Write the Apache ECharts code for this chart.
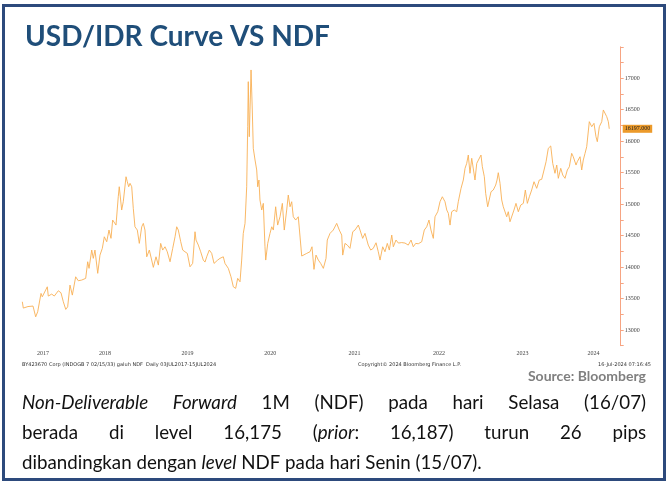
<!DOCTYPE html>
<html><head><meta charset="utf-8">
<script src="https://cdn.jsdelivr.net/npm/echarts@6/dist/echarts.min.js"></script>
<style>html,body{margin:0;padding:0;background:#fff}#c{width:669px;height:483px}</style>
</head><body><div id="c"></div>
<script>
// x values: decimal years (2017.5 = 03 Jul 2017)
const dates = [
2017.511,2017.523,2017.579,2017.639,2017.671,2017.695,2017.735,2017.750,2017.810,2017.822,
2017.863,2017.894,2017.942,2017.974,2018.002,2018.031,2018.054,2018.082,2018.110,2018.150,
2018.181,2018.222,2018.270,2018.294,2018.310,2018.342,2018.361,2018.381,2018.414,2018.441,
2018.469,2018.493,2018.522,2018.549,2018.573,2018.593,2018.633,2018.660,2018.672,2018.701,
2018.720,2018.753,2018.768,2018.785,2018.801,2018.821,2018.840,2018.860,2018.888,2018.912,
2018.941,2018.960,2018.980,2019.001,2019.032,2019.060,2019.080,2019.112,2019.140,2019.168,
2019.192,2019.220,2019.247,2019.280,2019.312,2019.340,2019.360,2019.379,2019.408,2019.432,
2019.459,2019.487,2019.519,2019.551,2019.579,2019.591,2019.619,2019.647,2019.678,2019.699,
2019.719,2019.750,2019.779,2019.807,2019.851,2019.878,2019.918,2019.938,2019.978,2020.010,
2020.038,2020.066,2020.090,2020.118,2020.138,2020.157,2020.178,2020.198,2020.210,2020.217,
2020.229,2020.241,2020.250,2020.265,2020.277,2020.298,2020.318,2020.330,2020.345,2020.357,
2020.378,2020.397,2020.417,2020.426,2020.450,2020.477,2020.498,2020.517,2020.545,2020.569,
2020.597,2020.625,2020.648,2020.677,2020.696,2020.717,2020.737,2020.756,2020.785,2020.816,
2020.837,2020.857,2020.876,2020.917,2020.956,2020.980,2021.004,2021.028,2021.056,2021.084,
2021.116,2021.148,2021.163,2021.196,2021.235,2021.276,2021.307,2021.336,2021.348,2021.375,
2021.403,2021.435,2021.468,2021.495,2021.535,2021.555,2021.587,2021.615,2021.654,2021.683,
2021.714,2021.747,2021.774,2021.795,2021.827,2021.854,2021.882,2021.906,2021.935,2021.954,
2021.986,2022.014,2022.054,2022.094,2022.133,2022.166,2022.193,2022.222,2022.253,2022.294,
2022.325,2022.354,2022.381,2022.405,2022.433,2022.453,2022.486,2022.513,2022.541,2022.573,
2022.594,2022.613,2022.633,2022.653,2022.684,2022.713,2022.732,2022.765,2022.792,2022.813,
2022.833,2022.852,2022.872,2022.893,2022.912,2022.932,2022.953,2022.972,2023.004,2023.020,
2023.044,2023.060,2023.084,2023.100,2023.124,2023.151,2023.180,2023.196,2023.211,2023.232,
2023.252,2023.271,2023.292,2023.312,2023.331,2023.351,2023.372,2023.399,2023.423,2023.451,
2023.480,2023.511,2023.535,2023.559,2023.583,2023.611,2023.639,2023.671,2023.702,2023.731,
2023.759,2023.783,2023.810,2023.839,2023.863,2023.890,2023.911,2023.930,2023.959,2023.983,
2024.010,2024.038,2024.062,2024.090,2024.109,2024.142,2024.157,2024.190,2024.210,2024.229,
2024.250,2024.270,2024.301,2024.330,2024.357,2024.381,2024.397,2024.421,2024.450,2024.469,
2024.489,2024.510,2024.529,2024.540
];
const ndf = [
13448,13348,13372,13380,13209,13289,13581,13527,13686,13539,
13570,13539,13623,13591,13448,13327,13368,13713,13554,13845,
13782,13793,13820,14084,13979,14270,14138,14270,13900,14190,
14297,14481,14402,14588,14456,14747,14667,15117,15276,14906,
15038,15435,15356,15276,15330,15276,14933,14640,14588,14376,
14640,14694,14588,14163,14270,14111,13995,14163,14031,14376,
14270,14322,14243,14084,14297,14481,14640,14588,14402,14270,
14243,14217,14004,14058,14561,14429,14349,14243,14111,14079,
14163,14270,14217,14058,14111,14138,14163,14058,13979,13845,
13686,13661,13820,13766,14111,14535,14694,15276,16230,16946,
16071,16655,17132,16496,15887,15701,15542,15276,15383,15065,
14906,15012,14322,14111,14376,14535,14640,14588,14958,14667,
14799,15012,14588,14906,15144,14958,15038,14799,14747,14799,
14826,14175,14206,14217,14243,14322,13963,14190,14111,14058,
13979,14138,14429,14535,14588,14694,14588,14508,14190,14376,
14349,14297,14561,14588,14667,14588,14456,14535,14349,14270,
14297,14386,14243,14111,14322,14243,14376,14270,14508,14322,
14429,14381,14389,14381,14349,14429,14322,14376,14370,14402,
14588,14640,14747,14588,14456,14799,14879,15038,15117,15038,
14906,14853,14667,14879,14906,14879,15038,15251,15383,15569,
15648,15780,15490,15728,15753,15383,15648,15621,15780,15594,
15435,15171,14958,14933,15197,15224,15303,15383,15499,15330,
15065,14958,14985,14799,14879,14720,14747,14906,15012,14879,
14985,15012,15224,15012,15117,15224,15356,15251,15383,15394,
15542,15674,15887,15924,15648,15490,15621,15410,15569,15462,
15410,15542,15594,15807,15753,15621,15674,15753,15542,15701,
15807,15912,16310,16230,16284,16071,15992,16230,16310,16496,
16469,16389,16310,16197
];
const lastPrice = 16197;
const yearLabels = ['2017','2018','2019','2020','2021','2022','2023','2024'];
const yearLabelPos = [2017.76,2018.5,2019.49,2020.48,2021.49,2022.5,2023.5,2024.35];
const yLabelValues = [13000,13500,14000,14500,15000,15500,16000,16500,17000];

const chart = echarts.init(document.getElementById('c'), null, {renderer:'canvas'});

const cv = document.createElement('canvas').getContext('2d');
function tw(font, t){ cv.font = font; return cv.measureText(t).width; }

const BODY_FAMILY = 'Lato';
const lines = [
  [[{t:'Non-Deliverable',i:1}],[{t:'Forward',i:1}],[{t:'1M'}],[{t:'(NDF)'}],[{t:'pada'}],[{t:'hari'}],[{t:'Selasa'}],[{t:'(16/07)'}]],
  [[{t:'berada'}],[{t:'di'}],[{t:'level'}],[{t:'16,175'}],[{t:'('},{t:'prior',i:1},{t:':'}],[{t:'16,187)'}],[{t:'turun'}],[{t:'26'}],[{t:'pips'}]],
  [[{t:'dibandingkan'}],[{t:'dengan'}],[{t:'level',i:1}],[{t:'NDF'}],[{t:'pada'}],[{t:'hari'}],[{t:'Senin'}],[{t:'(15/07).'}]]
];
function fnt(sz, it){ return (it?'italic ':'') + sz + 'px ' + BODY_FAMILY; }
function wordW(w, sz){ return w.reduce((s,seg)=>s+tw(fnt(sz,seg.i),seg.t),0); }
let bodySize = 20;
{
  const l = lines[2];
  const w = l.reduce((s,wd)=>s+wordW(wd,20),0) + tw(fnt(20),' ')*(l.length-1);
  bodySize = 20*460/w;
}
const graphics = [];
const L = 22, R = 646, lineY = [403, 433, 463];
lines.forEach((line, li) => {
  const widths = line.map(w => wordW(w, bodySize));
  const total = widths.reduce((a,b)=>a+b,0);
  const gap = li < 2 ? (R - L - total)/(line.length-1) : tw(fnt(bodySize),' ');
  let x = L;
  line.forEach((word, wi) => {
    let sx = x;
    word.forEach(seg => {
      graphics.push({type:'text', x:sx, y:lineY[li], silent:true,
        style:{text:seg.t, font:fnt(bodySize,seg.i), fill:'#111', textAlign:'left', textVerticalAlign:'middle', align:'left', verticalAlign:'middle'}});
      sx += tw(fnt(bodySize,seg.i), seg.t);
    });
    x += widths[wi] + gap;
  });
});
let titleSize = 26;
{ const w = tw('bold 26px Lato','USD/IDR Curve VS NDF'); titleSize = 26*305/w; }
graphics.push({type:'text', x:25, y:37, silent:true,
  style:{text:'USD/IDR Curve VS NDF', font:'bold '+titleSize+'px Lato', fill:'#1f4e79', textVerticalAlign:'middle', verticalAlign:'middle'}});
graphics.push({type:'text', x:646, y:376, silent:true,
  style:{text:'Source: Bloomberg', font:'bold 14px Lato', fill:'#7f7f7f', textAlign:'right', align:'right', textVerticalAlign:'middle', verticalAlign:'middle'}});
const foot = 'normal 5px "DejaVu Sans"';
graphics.push({type:'text', x:22, y:364.5, silent:true, style:{text:'BY423670 Corp (INDOGB 7 02/15/33) galuh NDF  Daily 03JUL2017-15JUL2024', font:foot, fill:'#333', textVerticalAlign:'middle', verticalAlign:'middle'}});
graphics.push({type:'text', x:358, y:364.5, silent:true, style:{text:'Copyright\u00A9 2024 Bloomberg Finance L.P.', font:foot, fill:'#333', textVerticalAlign:'middle', verticalAlign:'middle'}});
graphics.push({type:'text', x:651, y:364.5, silent:true, style:{text:'16-Jul-2024 07:16:45', font:foot, fill:'#333', textAlign:'right', align:'right', textVerticalAlign:'middle', verticalAlign:'middle'}});
graphics.push({type:'rect', shape:{x:3.5, y:5.5, width:661, height:474}, silent:true, z:100,
  style:{fill:'none', stroke:'#2d4a7c', lineWidth:3}});

chart.setOption({
  animation:false,
  backgroundColor:'#fff',
  grid:{left:21.4, right:48.3, top:46.8, bottom:137.3, containLabel:false},
  xAxis:{type:'value', min:2017.5, max:2024.677,
    axisLine:{show:false}, axisTick:{show:false}, splitLine:{show:false},
    axisLabel:{customValues:yearLabelPos, formatter:(v)=>{const i=yearLabelPos.indexOf(v);return i>=0?yearLabels[i]:String(Math.floor(v));},
      fontSize:6, color:'#444', fontFamily:'Liberation Serif', margin:5}},
  yAxis:{type:'value', position:'right', min:12750, max:17500, interval:250,
    axisLine:{show:true, lineStyle:{color:'#f6a482', width:1}},
    axisTick:{show:true, length:3, inside:false, lineStyle:{color:'#f6a482'}},
    splitLine:{show:false},
    axisLabel:{formatter:(v)=>yLabelValues.indexOf(v)>=0?String(v):'', fontSize:6, color:'#444', fontFamily:'Liberation Serif', margin:4}},
  series:[{type:'line', data:dates.map((d,i)=>[d,ndf[i]]), showSymbol:false, symbol:'none',
    lineStyle:{color:'#f8b055', width:1, opacity:0.9},
    markLine:{silent:true, symbol:['none','none'], lineStyle:{color:'rgba(0,0,0,0)', width:0, type:'solid'},
      label:{show:true, position:'end', formatter:lastPrice.toFixed(3), backgroundColor:'#ec9a2a', color:'#222', fontSize:6,
        fontFamily:'Liberation Serif', padding:[1,2], distance:2},
      data:[{yAxis:lastPrice}]}}],
  graphic:graphics
});
</script></body></html>
